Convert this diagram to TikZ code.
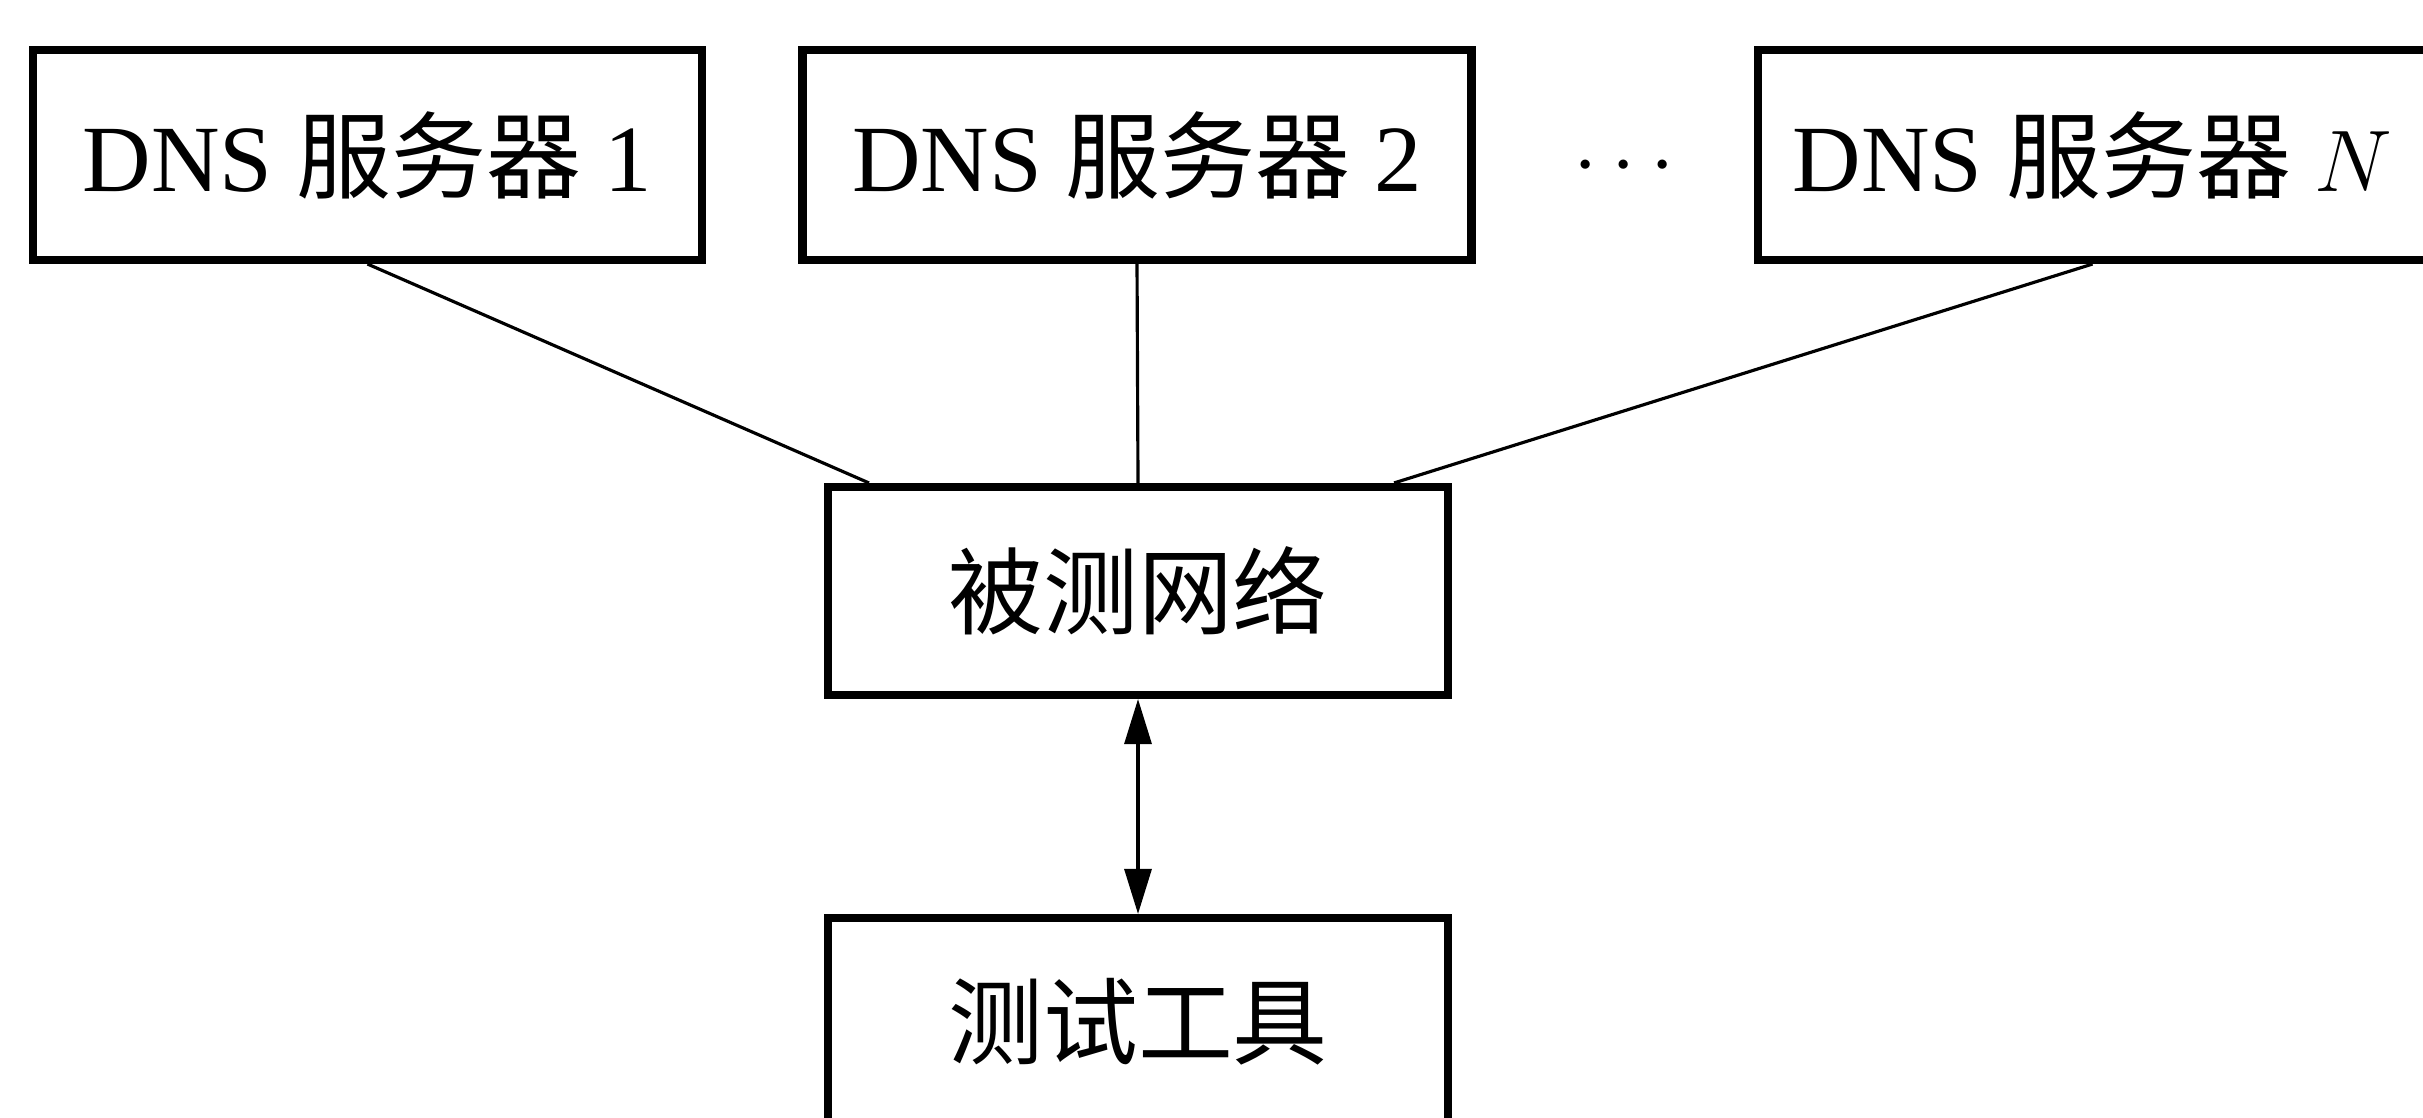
\documentclass[tikz,border=0pt]{standalone}
\usepackage{fontspec}
\setmainfont{Liberation Serif}
\newfontfamily\cjk{Noto Sans CJK SC}
\usepackage{tikz}
\usetikzlibrary{calc}
\usetikzlibrary{arrows.meta}
\tikzset{srvbox/.style={draw, line width=2.3pt, minimum width=6.69cm, minimum height=2.1cm, font=\fontsize{27}{32}\selectfont}}
\tikzset{netbox/.style={draw, line width=2.3pt, minimum width=6.2cm, minimum height=2.08cm, font=\fontsize{27}{32}\selectfont\cjk}}
\tikzset{link/.style={line width=0.9pt}}

\begin{document}
\begin{tikzpicture}

\useasboundingbox (0, 0) rectangle (24.23, 11.17);
\clip (0, 0) rectangle (24.23, 11.17);

\node[srvbox] (dnsA) at (3.675, 9.62) {DNS {\cjk 服务器} 1};
\node[srvbox] (dnsB) at (11.37, 9.62) {DNS {\cjk 服务器} 2};
\node[font=\fontsize{34}{40}\selectfont] (dots) at (16.24, 9.5) {$\cdots$};
\node[srvbox] (dnsN) at (20.925, 9.62) {DNS {\cjk 服务器} $N$};

\node[netbox] (net) at (11.38, 5.26) {被测网络};
\node[netbox] (tool) at (11.38, 0.95) {测试工具};

\draw[link] (dnsA.south) -- ($(net.north west)+(0.45, 0)$);
\draw[link] (dnsB.south) -- (net.north);
\draw[link] (dnsN.south) -- ($(net.north east)+(-0.58, 0)$);

\draw[link, {Triangle[length=4.5mm, width=2.7mm]}-{Triangle[length=4.5mm, width=2.7mm]}] (net.south) -- (tool.north);

\end{tikzpicture}
\end{document}
